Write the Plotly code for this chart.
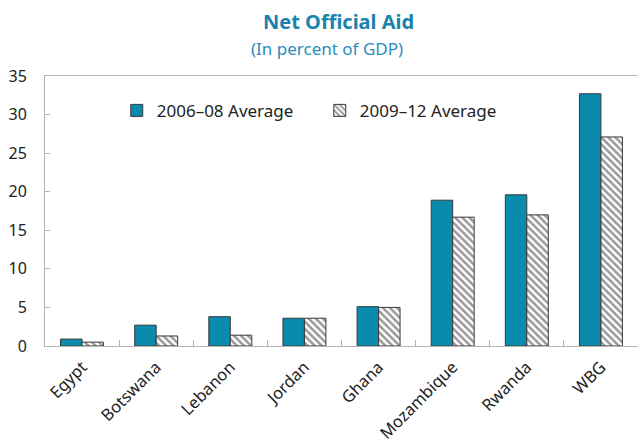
import plotly.graph_objects as go

countries = ["Egypt", "Botswana", "Lebanon", "Jordan", "Ghana", "Mozambique", "Rwanda", "WBG"]
avg_2006_08 = [0.9, 2.7, 3.8, 3.6, 5.1, 18.9, 19.6, 32.7]
avg_2009_12 = [0.5, 1.3, 1.4, 3.6, 5.0, 16.7, 17.0, 27.1]

FONT = "Noto Sans"
BLUE = "#0A8BAE"
EDGE = "#3a3a3a"
AXIS = "#b4b4b4"

fig = go.Figure()
fig.add_trace(go.Bar(
    x=countries, y=avg_2006_08, name="2006\u201308 Average",
    marker=dict(color=BLUE, line=dict(color=EDGE, width=1)),
))
fig.add_trace(go.Bar(
    x=countries, y=avg_2009_12, name="2009\u201312 Average",
    marker=dict(
        color="white",
        line=dict(color=EDGE, width=1),
        pattern=dict(shape="\\", fgcolor="#333333", bgcolor="white",
                     size=5, solidity=0.5),
    ),
))

fig.update_layout(
    width=640, height=446,
    margin=dict(l=45, r=2, t=76, b=98),
    paper_bgcolor="white", plot_bgcolor="white",
    font=dict(family=FONT, size=15, color="#222222"),
    barmode="group", bargap=0.42, bargroupgap=0,
    showlegend=True,
    legend=dict(
        orientation="h", x=0.121, y=0.871, xanchor="left", yanchor="middle",
        font=dict(size=17, color="#222222"), bgcolor="rgba(0,0,0,0)",
        entrywidth=158, entrywidthmode="pixels", itemwidth=30,
        traceorder="normal",
    ),
    annotations=[
        dict(text="<b>Net Official Aid</b>", xref="paper", yref="paper",
             x=0.495, y=1, yanchor="middle", yshift=55, showarrow=False,
             font=dict(family=FONT, size=20, color="#1A82AE")),
        dict(text="(In percent of GDP)", xref="paper", yref="paper",
             x=0.475, y=1, yanchor="middle", yshift=28, showarrow=False,
             font=dict(family=FONT, size=17, color="#2A8CC0")),
    ],
)

fig.update_xaxes(
    showline=True, linecolor=AXIS, linewidth=1, mirror=True,
    ticks="inside", ticklen=6, tickcolor=AXIS, tickson="boundaries",
    tickangle=-45, tickfont=dict(size=16.5), ticklabelstandoff=4,
    showgrid=False,
)
fig.update_yaxes(
    range=[0, 35], dtick=5, showline=True, linecolor=AXIS, linewidth=1,
    ticks="inside", ticklen=5, tickcolor=AXIS, showgrid=False, zeroline=False,
    tickfont=dict(size=16), ticklabelstandoff=14,
)

fig.write_html("out.html")
